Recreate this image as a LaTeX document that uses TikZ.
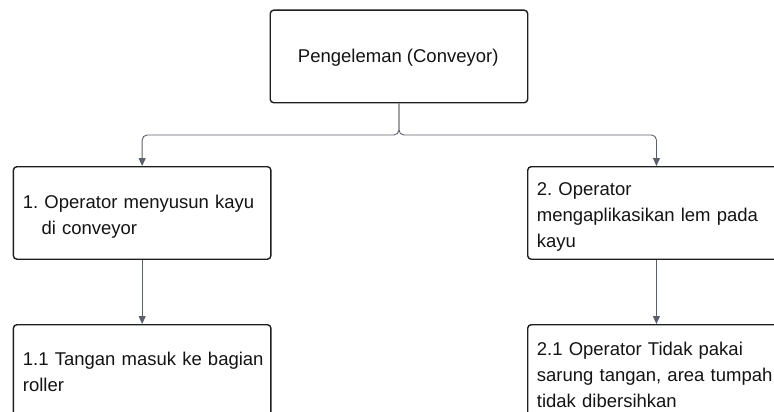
\documentclass[tikz,border=0pt]{standalone}
\usepackage{fontspec}
\setmainfont{Liberation Sans}
\usetikzlibrary{arrows.meta}
\definecolor{boxcol}{RGB}{30,30,30}
\definecolor{linkcol}{RGB}{90,95,106}
\definecolor{txtcol}{RGB}{20,20,20}
\frenchspacing
\begin{document}
\begin{tikzpicture}[x=1pt,y=-1pt,
  box/.style={draw=boxcol, line width=1.4pt, rounded corners=3.5pt, fill=white,
    minimum width=257.5pt, minimum height=92.5pt, inner sep=0pt, anchor=north west},
  lbl/.style={anchor=base west, inner sep=0pt, text width=250pt, align=left,
    font=\fontsize{18.5}{26}\selectfont\frenchspacing, text=txtcol},
  link/.style={draw=linkcol, line width=0.9pt, -{Triangle[length=8pt,width=7pt]}},
]
\useasboundingbox (0,0) rectangle (774,412);
\clip (0,0) rectangle (774,412);

% boxes
\node[box] (top) at (269.5,9.5) {};
\node[box] (b1)  at (12.7,166) {};
\node[box] (b2)  at (527,166) {};
\node[box] (b11) at (12.7,324) {};
\node[box] (b21) at (527,324) {};

% labels
\node[anchor=base, inner sep=0pt, font=\fontsize{18.5}{26}\selectfont, text=txtcol]
  (t0) at (398.25,63) {Pengeleman (Conveyor)};
\node[lbl] (t1) at (22.7,208) {1. Operator menyusun kayu\\\hspace*{18.6pt}di conveyor};
\node[lbl] (t2) at (536.7,195) {2. Operator\\mengaplikasikan lem pada\\kayu};
\node[lbl] (t11) at (22.7,365) {1.1 Tangan masuk ke bagian\\roller};
\node[lbl] (t21) at (536.7,355) {2.1 Operator Tidak pakai\\sarung tangan, area tumpah\\tidak dibersihkan};

% connectors
\coordinate (j) at (398.25,135);
\draw[link, rounded corners=5pt] (top.south) -- (top.south |- j) -| (b1.north);
\draw[link, rounded corners=5pt] (top.south) -- (top.south |- j) -| (b2.north);
\draw[link] (b1.south) -- (b11.north);
\draw[link] (b2.south) -- (b21.north);
\end{tikzpicture}
\end{document}
